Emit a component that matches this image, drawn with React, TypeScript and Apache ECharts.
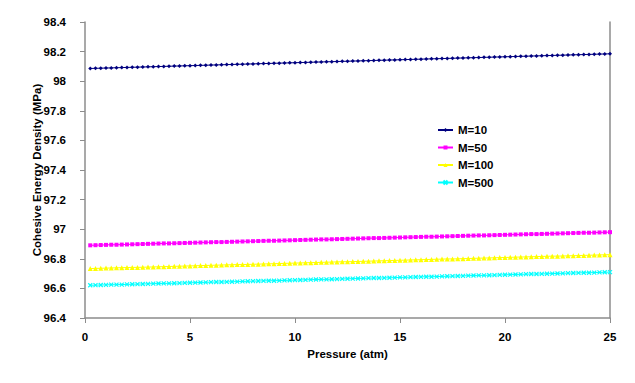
import React, { useEffect, useRef } from "react";
import * as echarts from "echarts";

const pressure = [
  0.25, 0.5, 0.75, 1, 1.25, 1.5, 1.75, 2, 2.25, 2.5,
  2.75, 3, 3.25, 3.5, 3.75, 4, 4.25, 4.5, 4.75, 5,
  5.25, 5.5, 5.75, 6, 6.25, 6.5, 6.75, 7, 7.25, 7.5,
  7.75, 8, 8.25, 8.5, 8.75, 9, 9.25, 9.5, 9.75, 10,
  10.25, 10.5, 10.75, 11, 11.25, 11.5, 11.75, 12, 12.25, 12.5,
  12.75, 13, 13.25, 13.5, 13.75, 14, 14.25, 14.5, 14.75, 15,
  15.25, 15.5, 15.75, 16, 16.25, 16.5, 16.75, 17, 17.25, 17.5,
  17.75, 18, 18.25, 18.5, 18.75, 19, 19.25, 19.5, 19.75, 20,
  20.25, 20.5, 20.75, 21, 21.25, 21.5, 21.75, 22, 22.25, 22.5,
  22.75, 23, 23.25, 23.5, 23.75, 24, 24.25, 24.5, 24.75, 25,
];

const m10 = [
  98.086, 98.087, 98.088, 98.089, 98.09, 98.091, 98.092, 98.093, 98.094, 98.095,
  98.096, 98.097, 98.098, 98.099, 98.1, 98.101, 98.102, 98.103, 98.104, 98.105,
  98.106, 98.107, 98.108, 98.109, 98.11, 98.111, 98.112, 98.113, 98.114, 98.115,
  98.116, 98.117, 98.118, 98.119, 98.12, 98.121, 98.122, 98.123, 98.124, 98.125,
  98.126, 98.127, 98.128, 98.129, 98.13, 98.131, 98.132, 98.133, 98.134, 98.135,
  98.136, 98.137, 98.138, 98.139, 98.14, 98.141, 98.142, 98.143, 98.144, 98.145,
  98.146, 98.147, 98.148, 98.149, 98.15, 98.151, 98.152, 98.153, 98.154, 98.155,
  98.156, 98.157, 98.158, 98.159, 98.16, 98.161, 98.162, 98.163, 98.164, 98.165,
  98.166, 98.167, 98.168, 98.169, 98.17, 98.171, 98.172, 98.173, 98.174, 98.175,
  98.176, 98.177, 98.178, 98.179, 98.18, 98.181, 98.182, 98.183, 98.184, 98.185,
];

const m50 = [
  96.891, 96.892, 96.893, 96.894, 96.895, 96.895, 96.896, 96.897, 96.898, 96.899,
  96.9, 96.901, 96.902, 96.903, 96.904, 96.904, 96.905, 96.906, 96.907, 96.908,
  96.909, 96.91, 96.911, 96.912, 96.913, 96.913, 96.914, 96.915, 96.916, 96.917,
  96.918, 96.919, 96.92, 96.921, 96.922, 96.922, 96.923, 96.924, 96.925, 96.926,
  96.927, 96.928, 96.929, 96.93, 96.931, 96.931, 96.932, 96.933, 96.934, 96.935,
  96.936, 96.937, 96.938, 96.939, 96.94, 96.94, 96.941, 96.942, 96.943, 96.944,
  96.945, 96.946, 96.947, 96.948, 96.949, 96.949, 96.95, 96.951, 96.952, 96.953,
  96.954, 96.955, 96.956, 96.957, 96.958, 96.958, 96.959, 96.96, 96.961, 96.962,
  96.963, 96.964, 96.965, 96.966, 96.967, 96.967, 96.968, 96.969, 96.97, 96.971,
  96.972, 96.973, 96.974, 96.975, 96.976, 96.976, 96.977, 96.978, 96.979, 96.98,
];

const m100 = [
  96.734, 96.735, 96.736, 96.737, 96.738, 96.739, 96.74, 96.741, 96.742, 96.742,
  96.743, 96.744, 96.745, 96.746, 96.747, 96.748, 96.749, 96.75, 96.751, 96.752,
  96.753, 96.754, 96.755, 96.756, 96.757, 96.758, 96.759, 96.76, 96.761, 96.761,
  96.762, 96.763, 96.764, 96.765, 96.766, 96.767, 96.768, 96.769, 96.77, 96.771,
  96.772, 96.773, 96.774, 96.775, 96.776, 96.777, 96.778, 96.779, 96.78, 96.78,
  96.781, 96.782, 96.783, 96.784, 96.785, 96.786, 96.787, 96.788, 96.789, 96.79,
  96.791, 96.792, 96.793, 96.794, 96.795, 96.796, 96.797, 96.798, 96.799, 96.799,
  96.8, 96.801, 96.802, 96.803, 96.804, 96.805, 96.806, 96.807, 96.808, 96.809,
  96.81, 96.811, 96.812, 96.813, 96.814, 96.815, 96.816, 96.817, 96.818, 96.818,
  96.819, 96.82, 96.821, 96.822, 96.823, 96.824, 96.825, 96.826, 96.827, 96.828,
];

const m500 = [
  96.621, 96.622, 96.623, 96.624, 96.625, 96.625, 96.626, 96.627, 96.628, 96.629,
  96.63, 96.631, 96.632, 96.633, 96.634, 96.634, 96.635, 96.636, 96.637, 96.638,
  96.639, 96.64, 96.641, 96.642, 96.643, 96.643, 96.644, 96.645, 96.646, 96.647,
  96.648, 96.649, 96.65, 96.651, 96.652, 96.652, 96.653, 96.654, 96.655, 96.656,
  96.657, 96.658, 96.659, 96.66, 96.661, 96.661, 96.662, 96.663, 96.664, 96.665,
  96.666, 96.667, 96.668, 96.669, 96.67, 96.67, 96.671, 96.672, 96.673, 96.674,
  96.675, 96.676, 96.677, 96.678, 96.679, 96.679, 96.68, 96.681, 96.682, 96.683,
  96.684, 96.685, 96.686, 96.687, 96.688, 96.688, 96.689, 96.69, 96.691, 96.692,
  96.693, 96.694, 96.695, 96.696, 96.697, 96.697, 96.698, 96.699, 96.7, 96.701,
  96.702, 96.703, 96.704, 96.705, 96.706, 96.706, 96.707, 96.708, 96.709, 96.71,
];

const seriesNames = ["M=10", "M=50", "M=100", "M=500"];
const seriesValues = [m10, m50, m100, m500];
const seriesColors = ["#00007f", "#ff00ff", "#ffff00", "#00ffff"];
const seriesSymbols = [
  "diamond",
  "rect",
  "triangle",
  "path://M0,0L10,10M10,0L0,10",
];
const seriesSymbolSizes = [4, 4, 5, 4];

const FONT = "'Liberation Sans', Arial, sans-serif";

export default function App() {
  const ref = useRef<HTMLDivElement>(null);
  useEffect(() => {
    if (!ref.current) return;
    const chart = echarts.init(ref.current, null, { renderer: "svg" });
    const axisColor = "#8c8c8c";
    const textStyle = { fontFamily: FONT, fontWeight: "bold", fontSize: 11.5, color: "#000" };
    chart.setOption({
      animation: false,
      backgroundColor: "#ffffff",
      grid: { left: 85, right: 25, top: 22, bottom: 65, containLabel: false },
      legend: {
        orient: "vertical",
        left: 437,
        top: 124,
        padding: 0,
        itemWidth: 15,
        itemHeight: 5,
        itemGap: 5.5,
        data: seriesNames,
        textStyle: { fontFamily: FONT, fontWeight: "bold", fontSize: 11.5, color: "#000" },
      },
      xAxis: {
        type: "value",
        min: 0,
        max: 25,
        interval: 5,
        name: "Pressure (atm)",
        nameLocation: "middle",
        nameGap: 29,
        nameTextStyle: textStyle,
        axisLine: { show: true, lineStyle: { color: axisColor, width: 1.5 } },
        axisTick: { show: true, inside: false, length: 5, lineStyle: { color: axisColor } },
        axisLabel: { margin: 13, ...textStyle },
        splitLine: { show: false },
      },
      yAxis: [
        {
          type: "value",
          min: 96.4,
          max: 98.4,
          interval: 0.2,
          name: "Cohesive Energy Density (MPa)",
          nameLocation: "middle",
          nameGap: 42,
          nameMoveOverlap: false,
          nameTextStyle: textStyle,
          axisLine: { show: true, lineStyle: { color: axisColor, width: 1.5 } },
          axisTick: { show: true, inside: false, length: 5, lineStyle: { color: axisColor } },
          axisLabel: {
            margin: 19,
            ...textStyle,
            formatter: (v: number) => String(Number(v.toFixed(1))),
          },
          splitLine: { show: false },
        },
        {
          type: "value",
          min: 96.4,
          max: 98.4,
          position: "right",
          axisLine: { show: true, lineStyle: { color: axisColor, width: 1.5 } },
          axisTick: { show: false },
          axisLabel: { show: false },
          splitLine: { show: false },
        },
      ],
      series: seriesNames.map((name, k) => ({
        name,
        type: "line",
        yAxisIndex: 0,
        data: pressure.map((p, i) => [p, seriesValues[k][i]]),
        symbol: seriesSymbols[k],
        symbolSize: seriesSymbolSizes[k],
        showSymbol: true,
        lineStyle: { color: seriesColors[k], width: 1 },
        itemStyle: {
          color: seriesColors[k],
          borderColor: seriesColors[k],
          borderWidth: k === 3 ? 1.2 : 0,
        },
        emphasis: { disabled: true },
      })),
    });
    return () => chart.dispose();
  }, []);
  return (
    <div
      ref={ref}
      style={{ position: "fixed", left: 0, top: 0, width: 635, height: 383, background: "#fff" }}
    />
  );
}
